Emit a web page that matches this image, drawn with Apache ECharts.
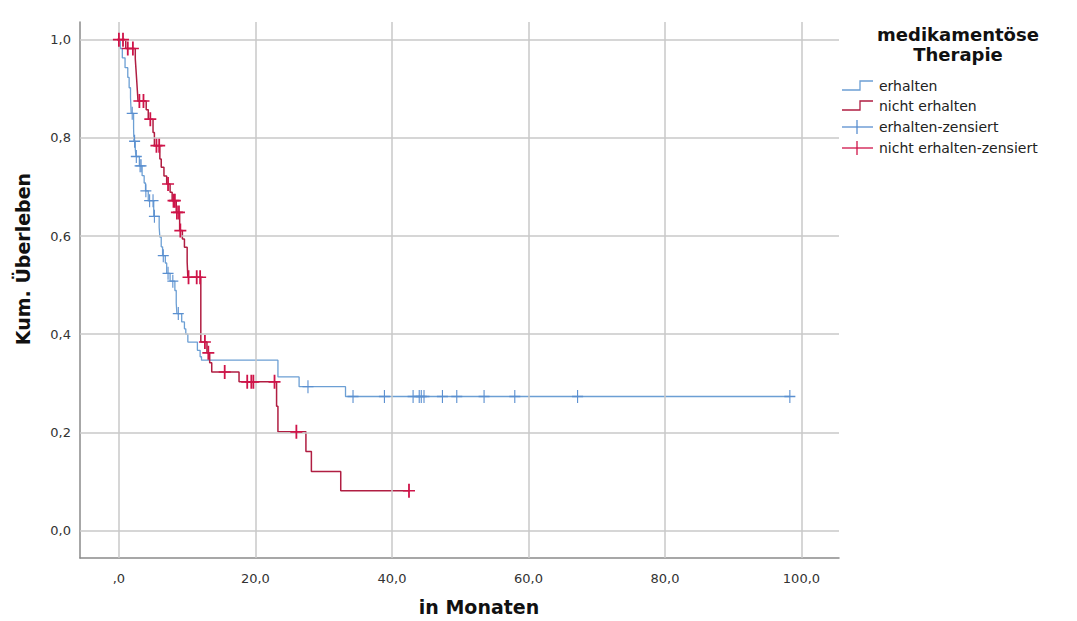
<!DOCTYPE html>
<html>
<head>
<meta charset="utf-8">
<title>Kaplan-Meier medikamentöse Therapie</title>
<script src="https://cdn.jsdelivr.net/npm/echarts@6.0.0/dist/echarts.min.js"></script>
<style>
  html, body { margin: 0; padding: 0; background: #fff; }
  #chart { width: 1077px; height: 621px; }
</style>
</head>
<body>
<div id="chart"></div>
<script>
// Achsen-Ticks
const xTicks = [0, 20, 40, 60, 80, 100];
const xTickLabels = [",0", "20,0", "40,0", "60,0", "80,0", "100,0"];
const yTicks = [0, 0.2, 0.4, 0.6, 0.8, 1.0];
const yTickLabels = ["0,0", "0,2", "0,4", "0,6", "0,8", "1,0"];

// Gruppe "erhalten": Ereigniszeiten und Überleben danach
const blueTimes = [0, 0.2, 0.5, 0.9, 1.3, 1.5, 1.7, 1.8, 2.15, 2.2, 2.4, 2.5, 3.0, 3.4, 3.7, 3.9, 4.3, 5.1, 5.9, 6.0, 6.2, 6.4, 6.8, 7.0, 7.5, 8.2, 8.4, 8.5, 9.2, 9.6, 9.8, 10.1, 11.5, 11.9, 12.1, 23.3, 26.4, 33.2, 98.3];
const blueSurv = [1.0, 0.982, 0.963, 0.943, 0.923, 0.902, 0.882, 0.850, 0.82, 0.793, 0.777, 0.762, 0.743, 0.723, 0.708, 0.692, 0.672, 0.640, 0.618, 0.598, 0.578, 0.560, 0.545, 0.524, 0.508, 0.489, 0.463, 0.442, 0.425, 0.411, 0.400, 0.384, 0.367, 0.354, 0.347, 0.313, 0.293, 0.273, 0.273];
// zensierte Fälle "erhalten"
const blueCensTimes = [1.95, 2.3, 2.55, 3.1, 3.25, 3.95, 4.5, 5.0, 5.2, 6.5, 7.2, 7.9, 8.7, 27.7, 34.3, 38.9, 43.1, 44.0, 44.3, 44.7, 47.4, 49.5, 53.5, 58.0, 67.2, 98.3];
const blueCensSurv = [0.850, 0.793, 0.762, 0.743, 0.743, 0.692, 0.672, 0.672, 0.640, 0.560, 0.524, 0.508, 0.442, 0.293, 0.273, 0.273, 0.273, 0.273, 0.273, 0.273, 0.273, 0.273, 0.273, 0.273, 0.273, 0.273];

// Gruppe "nicht erhalten"
const redTimes = [0, 1.0, 2.4, 2.5, 2.6, 2.7, 2.8, 4.0, 4.3, 5.0, 5.2, 6.0, 6.2, 6.6, 7.0, 7.5, 7.8, 8.4, 8.9, 9.3, 9.6, 10.0, 10.1, 12.0, 12.9, 13.3, 13.6, 17.6, 23.1, 23.3, 27.4, 28.2, 32.5, 42.5];
const redSurv = [1.0, 0.982, 0.961, 0.940, 0.919, 0.897, 0.875, 0.857, 0.838, 0.811, 0.784, 0.757, 0.740, 0.722, 0.706, 0.689, 0.672, 0.648, 0.611, 0.594, 0.577, 0.547, 0.516, 0.384, 0.362, 0.342, 0.323, 0.303, 0.253, 0.201, 0.161, 0.120, 0.081, 0.081];
const redCensTimes = [0.0, 0.6, 1.3, 2.05, 3.0, 3.6, 4.6, 5.5, 5.9, 7.2, 8.0, 8.2, 8.5, 8.8, 9.0, 10.2, 11.4, 11.9, 12.6, 13.1, 15.5, 18.8, 19.4, 19.7, 22.8, 26.0, 42.5];
const redCensSurv = [1.0, 1.0, 0.982, 0.982, 0.875, 0.875, 0.838, 0.784, 0.784, 0.706, 0.672, 0.672, 0.648, 0.648, 0.611, 0.516, 0.516, 0.516, 0.384, 0.362, 0.323, 0.303, 0.303, 0.303, 0.303, 0.201, 0.081];

const BLUE = "#6c9fd4";
const BLUE_CENS = "#5a8fd0";
const RED = "#b01e42";
const RED_CENS = "#cf1449";
const GRID_COLOR = "#c9c9c9";
const FONT = "DejaVu Sans";

const pairs = (xs, ys) => xs.map((x, i) => [x, ys[i]]);

// "+" als gefülltes Pfad-Symbol
const plusThin = "path://M-0.1,-1H0.1V-0.1H1V0.1H0.1V1H-0.1V0.1H-1V-0.1H-0.1Z";
const plusBold = "path://M-0.15,-1H0.15V-0.12H1V0.12H0.15V1H-0.15V0.12H-1V-0.12H-0.15Z";

const chart = echarts.init(document.getElementById("chart"), null, { renderer: "svg" });

const option = {
  animation: false,
  backgroundColor: "#fff",
  grid: {
    left: 80,
    right: 238,
    top: 22,
    bottom: 63,
    outerBoundsMode: "none",
  },
  xAxis: {
    type: "value",
    min: -5.7,
    max: 105.5,
    axisLine: { show: true, onZero: false, lineStyle: { color: "#8a8a8a", width: 1.5 } },
    axisTick: { show: false, customValues: xTicks },
    splitLine: { show: false },
    axisLabel: {
      customValues: xTicks,
      margin: 14,
      fontSize: 13,
      fontFamily: FONT,
      color: "#333",
      formatter: (v) => xTickLabels[xTicks.indexOf(v)] ?? "",
    },
  },
  yAxis: {
    type: "value",
    min: -0.056,
    max: 1.036,
    axisLine: { show: true, onZero: false, lineStyle: { color: "#8a8a8a", width: 1.5 } },
    axisTick: { show: false, customValues: yTicks },
    splitLine: { show: false },
    axisLabel: {
      customValues: yTicks,
      margin: 9,
      fontSize: 13,
      fontFamily: FONT,
      color: "#333",
      formatter: (v) => yTickLabels[yTicks.indexOf(v)] ?? "",
    },
  },
  series: [
    {
      // Gitterlinien an den Tick-Positionen
      type: "line",
      data: [],
      silent: true,
      z: 1,
      markLine: {
        silent: true,
        symbol: "none",
        label: { show: false },
        lineStyle: { color: GRID_COLOR, width: 1.5, type: "solid" },
        data: [
          ...xTicks.map((v) => ({ xAxis: v })),
          ...yTicks.map((v) => ({ yAxis: v })),
        ],
      },
    },
    {
      name: "erhalten",
      type: "line",
      step: "end",
      showSymbol: false,
      z: 3,
      lineStyle: { color: BLUE, width: 1.3 },
      itemStyle: { color: BLUE },
      data: pairs(blueTimes, blueSurv),
    },
    {
      name: "nicht erhalten",
      type: "line",
      step: "end",
      showSymbol: false,
      z: 4,
      lineStyle: { color: RED, width: 1.5 },
      itemStyle: { color: RED },
      data: pairs(redTimes, redSurv),
    },
    {
      name: "erhalten-zensiert",
      type: "scatter",
      z: 5,
      symbol: plusThin,
      symbolSize: [11, 13],
      itemStyle: { color: BLUE_CENS, opacity: 1 },
      data: pairs(blueCensTimes, blueCensSurv),
    },
    {
      name: "nicht erhalten-zensiert",
      type: "scatter",
      z: 6,
      symbol: plusBold,
      symbolSize: [12, 14],
      itemStyle: { color: RED_CENS, opacity: 1 },
      data: pairs(redCensTimes, redCensSurv),
    },
  ],
  graphic: [
    // Achsentitel
    {
      type: "text",
      x: 479,
      y: 607,
      style: {
        text: "in Monaten",
        font: `bold 19px "${FONT}"`,
        fill: "#111",
        align: "center",
        verticalAlign: "middle",
        textAlign: "center",
        textVerticalAlign: "middle",
      },
    },
    {
      type: "text",
      x: 23,
      y: 259,
      rotation: Math.PI / 2,
      style: {
        text: "Kum. Überleben",
        font: `bold 19px "${FONT}"`,
        fill: "#111",
        align: "center",
        verticalAlign: "middle",
        textAlign: "center",
        textVerticalAlign: "middle",
      },
    },
    // Legende
    {
      type: "text",
      x: 958,
      y: 34,
      style: {
        text: "medikamentöse",
        font: `bold 18px "${FONT}"`,
        fill: "#111",
        align: "center",
        verticalAlign: "middle",
        textAlign: "center",
        textVerticalAlign: "middle",
      },
    },
    {
      type: "text",
      x: 958,
      y: 54,
      style: {
        text: "Therapie",
        font: `bold 18px "${FONT}"`,
        fill: "#111",
        align: "center",
        verticalAlign: "middle",
        textAlign: "center",
        textVerticalAlign: "middle",
      },
    },
    ...[
      { label: "erhalten", y: 86, color: BLUE, kind: "step" },
      { label: "nicht erhalten", y: 106, color: RED, kind: "step" },
      { label: "erhalten-zensiert", y: 127, color: BLUE_CENS, kind: "plus" },
      { label: "nicht erhalten-zensiert", y: 148, color: RED_CENS, kind: "plus" },
    ].flatMap((item) => {
      const els = [];
      if (item.kind === "step") {
        els.push({
          type: "polyline",
          shape: { points: [[842, item.y + 4], [860, item.y + 4], [860, item.y - 5], [873, item.y - 5]] },
          style: { stroke: item.color, lineWidth: 1.3, fill: null },
        });
      } else {
        els.push({
          type: "polyline",
          shape: { points: [[842, item.y], [873, item.y]] },
          style: { stroke: item.color, lineWidth: 1.3, fill: null },
        });
        els.push({
          type: "polyline",
          shape: { points: [[857, item.y - 7], [857, item.y + 7]] },
          style: { stroke: item.color, lineWidth: 1.3, fill: null },
        });
      }
      els.push({
        type: "text",
        x: 879,
        y: item.y,
        style: {
          text: item.label,
          font: `14px "${FONT}"`,
          fill: "#222",
          align: "left",
          verticalAlign: "middle",
          textAlign: "left",
          textVerticalAlign: "middle",
        },
      });
      return els;
    }),
  ],
};

chart.setOption(option);
</script>
</body>
</html>
